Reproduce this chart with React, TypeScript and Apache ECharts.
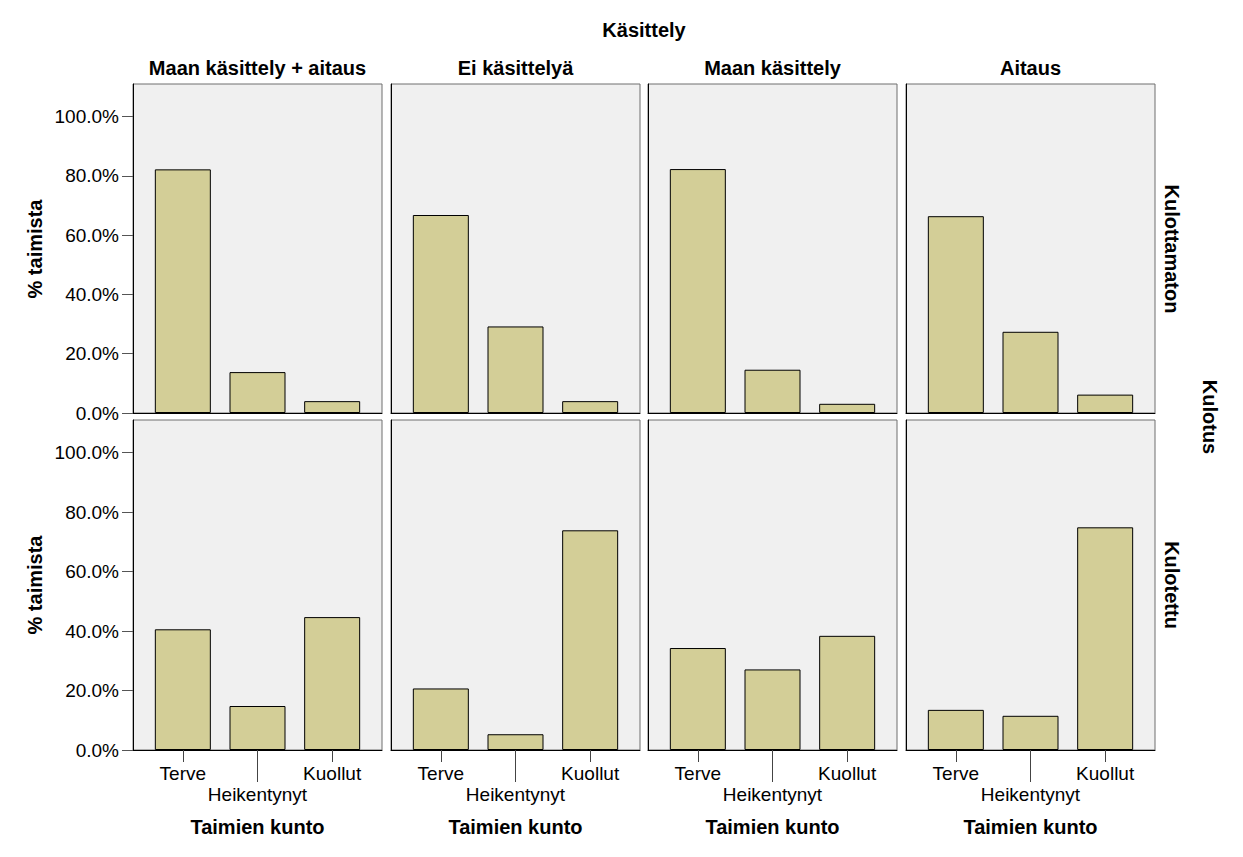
import React, { useEffect, useRef } from "react";
import * as echarts from "echarts";

// ---- Data ----
const categories = ["Terve", "Heikentynyt", "Kuollut"];
const treatments = ["Maan käsittely + aitaus", "Ei käsittelyä", "Maan käsittely", "Aitaus"];
const burnRows = ["Kulottamaton", "Kulotettu"];
const yTicks = [0, 20, 40, 60, 80, 100];

// Kulottamaton (unburned) row, per treatment, % of seedlings
const unburnedMaanAitaus = [82.2, 13.8, 4.0];
const unburnedEiKasittelya = [66.8, 29.2, 4.0];
const unburnedMaanKasittely = [82.3, 14.6, 3.1];
const unburnedAitaus = [66.4, 27.4, 6.2];

// Kulotettu (burned) row
const burnedMaanAitaus = [40.6, 14.8, 44.7];
const burnedEiKasittelya = [20.7, 5.3, 73.9];
const burnedMaanKasittely = [34.3, 27.1, 38.4];
const burnedAitaus = [13.5, 11.5, 74.9];

const rowValues = [
  [unburnedMaanAitaus, unburnedEiKasittelya, unburnedMaanKasittely, unburnedAitaus],
  [burnedMaanAitaus, burnedEiKasittelya, burnedMaanKasittely, burnedAitaus],
];

const Y_MAX = 111;
const FONT = '"Liberation Sans", Arial, Helvetica, sans-serif';

// ---- Layout ----
const colLefts = [133, 391, 648, 906];
const colWidth = 249;
const innerPad = 12.5;
const rowTops = [84, 420];
const rowHeight = 330;

export default function App() {
  const ref = useRef<HTMLDivElement>(null);

  useEffect(() => {
    if (!ref.current) return;
    const chart = echarts.init(ref.current, null, { renderer: "svg" });

    const grid: any[] = [];
    const xAxis: any[] = [];
    const yAxis: any[] = [];
    const series: any[] = [];

    // Outer frames (background, border, y axis labels)
    for (let r = 0; r < 2; r++) {
      for (let c = 0; c < 4; c++) {
        const gi = grid.length;
        const h = r === 0 ? rowHeight - 1 : rowHeight;
        grid.push({
          left: colLefts[c],
          top: rowTops[r],
          width: colWidth,
          height: h,
          show: true,
          backgroundColor: "#f0f0f0",
          borderColor: "#6e6e6e",
          borderWidth: 1,
          containLabel: false,
        });
        xAxis.push({
          type: "category",
          gridIndex: gi,
          data: categories,
          axisLine: { show: true, lineStyle: { color: "#000", width: 1 } },
          axisTick: { show: false },
          axisLabel: { show: false },
          splitLine: { show: false },
        });
        const leftCol = c === 0;
        yAxis.push({
          type: "value",
          gridIndex: gi,
          min: 0,
          max: Y_MAX,
          axisLine: { show: true, lineStyle: { color: "#000", width: 1 } },
          axisTick: leftCol
            ? { show: true, length: 11, customValues: yTicks, lineStyle: { color: "#555", width: 1 } }
            : { show: false },
          axisLabel: leftCol
            ? {
                show: true,
                customValues: yTicks,
                margin: 14,
                fontSize: 19,
                fontFamily: FONT,
                color: "#000",
                formatter: (v: number) => v.toFixed(1) + "%",
              }
            : { show: false },
          splitLine: { show: false },
        });
      }
    }

    // Inner plotting grids (bars, category ticks and labels)
    for (let r = 0; r < 2; r++) {
      for (let c = 0; c < 4; c++) {
        const gi = grid.length;
        const h = r === 0 ? rowHeight - 1 : rowHeight;
        const bottom = r === 1;
        grid.push({
          left: colLefts[c] + innerPad,
          top: rowTops[r],
          width: colWidth - 2 * innerPad,
          height: h,
          show: false,
          containLabel: false,
        });
        const xi = xAxis.length;
        xAxis.push({
          type: "category",
          gridIndex: gi,
          data: categories,
          axisLine: { show: false },
          axisTick: bottom
            ? {
                show: true,
                alignWithLabel: true,
                length: 12,
                interval: (idx: number) => idx !== 1,
                lineStyle: { color: "#444", width: 1 },
              }
            : { show: false },
          axisLabel: bottom
            ? {
                show: true,
                interval: 0,
                margin: 13,
                fontSize: 19,
                lineHeight: 21,
                fontFamily: FONT,
                color: "#000",
                formatter: (v: string, idx: number) => (idx === 1 ? "\n" + v : v),
              }
            : { show: false },
          splitLine: { show: false },
        });
        if (bottom) {
          xAxis.push({
            type: "category",
            gridIndex: gi,
            data: categories,
            position: "bottom",
            axisLine: { show: false },
            axisTick: {
              show: true,
              alignWithLabel: true,
              length: 32,
              interval: (idx: number) => idx === 1,
              lineStyle: { color: "#444", width: 1 },
            },
            axisLabel: { show: false },
            splitLine: { show: false },
          });
        }
        const yi = yAxis.length;
        yAxis.push({
          type: "value",
          gridIndex: gi,
          min: 0,
          max: Y_MAX,
          axisLine: { show: false },
          axisTick: { show: false },
          axisLabel: { show: false },
          splitLine: { show: false },
        });
        series.push({
          type: "bar",
          xAxisIndex: xi,
          yAxisIndex: yi,
          data: rowValues[r][c],
          barWidth: "75%",
          itemStyle: { color: "#d3ce97", borderColor: "#000", borderWidth: 1 },
          silent: true,
        });
      }
    }

    const graphic: any[] = [];
    const boldText = (text: string, x: number, y: number, rotation = 0) => ({
      type: "text",
      x,
      y,
      rotation,
      style: {
        text,
        fontSize: 20,
        fontWeight: "bold",
        fontFamily: FONT,
        fill: "#000",
        align: "center",
        verticalAlign: "middle",
      },
    });
    graphic.push(boldText("Käsittely", 644, 30));
    treatments.forEach((t, c) => {
      const cx = colLefts[c] + colWidth / 2;
      graphic.push(boldText(t, cx, 68));
      graphic.push(boldText("Taimien kunto", cx, 827));
    });
    rowTops.forEach((top) => {
      graphic.push(boldText("% taimista", 35, top + rowHeight / 2, Math.PI / 2));
    });
    burnRows.forEach((b, r) => {
      graphic.push(boldText(b, 1172, rowTops[r] + rowHeight / 2, -Math.PI / 2));
    });
    graphic.push(boldText("Kulotus", 1210, 417, -Math.PI / 2));

    chart.setOption({
      animation: false,
      backgroundColor: "#ffffff",
      grid,
      xAxis,
      yAxis,
      series,
      graphic,
    });

    return () => chart.dispose();
  }, []);

  return (
    <div
      ref={ref}
      style={{ position: "fixed", left: 0, top: 0, width: 1243, height: 857, background: "#fff" }}
    />
  );
}
